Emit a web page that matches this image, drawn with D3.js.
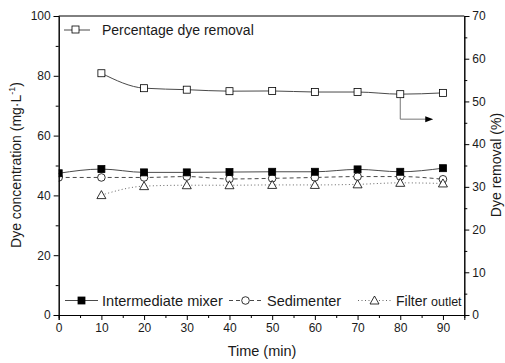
<!DOCTYPE html>
<html><head><meta charset="utf-8">
<script src="https://cdn.jsdelivr.net/npm/d3@7"></script>
<style>body{margin:0;background:#fff}svg{display:block;font-family:"Liberation Sans",Arial,sans-serif}</style>
</head><body><svg id="c" width="505" height="363"></svg>
<script>
const times = [0,10,20,30,40,50,60,70,80,90];
const mixer = [47.4,48.8,47.7,47.7,47.8,47.9,47.9,48.7,47.9,49.1];
const sedimenter = [46.0,46.0,46.0,46.3,45.5,45.7,46.0,46.3,46.3,45.4];
const filterTimes = [10,20,30,40,50,60,70,80,90];
const filterOutlet = [40.1,43.1,43.4,43.4,43.5,43.5,43.7,44.2,44.0];
const removalTimes = [10,20,30,40,50,60,70,80,90];
const removal = [56.6,53.1,52.75,52.4,52.45,52.2,52.2,51.7,52.0];
const xTicks = [0,10,20,30,40,50,60,70,80,90];
const yLeftTicks = [0,20,40,60,80,100];
const yRightTicks = [0,10,20,30,40,50,60,70];

const svg = d3.select("#c");
const L=58.7, R=464.3, T=16, B=315;
const x = d3.scaleLinear().domain([0,95]).range([L,R]);
const yL = d3.scaleLinear().domain([0,100]).range([B,T]);
const yR = d3.scaleLinear().domain([0,70]).range([B,T]);
const fs = "12px";
const txtCol = "#1a1a1a";

svg.append("defs").append("clipPath").attr("id","plot").append("rect")
  .attr("x",L).attr("y",T).attr("width",R-L).attr("height",B-T);

const lineCol = "#4a4a4a";
function line(xs, ys, yScale){
  return d3.line().curve(d3.curveMonotoneX).x((d,i)=>x(xs[i])).y(d=>yScale(d))(ys);
}
const data = svg.append("g").attr("clip-path","url(#plot)");
data.append("path").attr("d",line(removalTimes,removal,yR)).attr("fill","none").attr("stroke",lineCol).attr("stroke-width",1);
data.append("path").attr("d",line(times,mixer,yL)).attr("fill","none").attr("stroke",lineCol).attr("stroke-width",1);
data.append("path").attr("d",line(times,sedimenter,yL)).attr("fill","none").attr("stroke",lineCol).attr("stroke-width",1).attr("stroke-dasharray","4,3");
data.append("path").attr("d",line(filterTimes,filterOutlet,yL)).attr("fill","none").attr("stroke","#666").attr("stroke-width",1).attr("stroke-dasharray","1,2.5");

// arrow
const ax = x(removalTimes[7]), ay = yR(removal[7]);
data.append("path").attr("d",`M${ax},${ay}V${ay+25}H${ax+26}`).attr("fill","none").attr("stroke","#777");
data.append("path").attr("d",`M${ax+25},${ay+22}L${ax+33},${ay+25}L${ax+25},${ay+28}Z`).attr("fill","#000");

function sq(g,cx,cy,fill){g.append("rect").attr("x",cx-3.5).attr("y",cy-3.5).attr("width",7).attr("height",7).attr("fill",fill).attr("stroke","#000").attr("stroke-width",0.8);}
function circ(g,cx,cy){g.append("circle").attr("cx",cx).attr("cy",cy).attr("r",3.8).attr("fill","#fff").attr("stroke","#000").attr("stroke-width",0.8);}
function tri(g,cx,cy){g.append("path").attr("d",`M${cx},${cy-4.5}L${cx+4.5},${cy+3.5}L${cx-4.5},${cy+3.5}Z`).attr("fill","#fff").attr("stroke","#000").attr("stroke-width",0.8);}

times.forEach((t,i)=>circ(data,x(t),yL(sedimenter[i])));
filterTimes.forEach((t,i)=>tri(data,x(t),yL(filterOutlet[i])));
times.forEach((t,i)=>sq(data,x(t),yL(mixer[i]),"#000"));
removalTimes.forEach((t,i)=>sq(data,x(t),yR(removal[i]),"#fff"));

// frame top line
svg.append("line").attr("x1",L).attr("x2",R).attr("y1",T).attr("y2",T).attr("stroke","#000");

svg.append("g").attr("transform",`translate(0,${B})`)
  .call(d3.axisBottom(x).tickValues(xTicks).tickSize(5).tickPadding(3).tickFormat(d3.format("d")));
svg.append("g").attr("transform",`translate(0,${B})`)
  .call(d3.axisBottom(x).tickValues(d3.range(5,95,10)).tickSize(3).tickFormat(""));
svg.append("g").attr("transform",`translate(${L},0)`)
  .call(d3.axisLeft(yL).tickValues(yLeftTicks).tickSize(5).tickPadding(3));
svg.append("g").attr("transform",`translate(${L},0)`)
  .call(d3.axisLeft(yL).tickValues(d3.range(10,100,20)).tickSize(3).tickFormat(""));
svg.append("g").attr("transform",`translate(${R},0)`)
  .call(d3.axisRight(yR).tickValues(yRightTicks).tickSize(5).tickPadding(3));
svg.append("g").attr("transform",`translate(${R},0)`)
  .call(d3.axisRight(yR).tickValues(d3.range(5,70,10)).tickSize(3).tickFormat(""));
svg.selectAll(".domain").attr("stroke","#000");
svg.selectAll(".tick line").attr("stroke","#000");
svg.selectAll(".tick text").attr("font-size",fs).attr("fill",txtCol).attr("font-family","Liberation Sans, Arial, sans-serif");

// axis titles
svg.append("text").attr("x",262).attr("y",356).attr("text-anchor","middle").attr("font-size","14.5px").attr("fill",txtCol).text("Time (min)");
const lt = svg.append("text").attr("transform","translate(21,165) rotate(-90)").attr("text-anchor","middle").attr("font-size","14px").attr("fill",txtCol);
lt.append("tspan").text("Dye concentration (mg·L");
lt.append("tspan").attr("font-size","9px").attr("dy","-6").text("-1");
lt.append("tspan").attr("dy","6").text(")");
svg.append("text").attr("transform","translate(501,165) rotate(-90)").attr("text-anchor","middle").attr("font-size","14px").attr("fill",txtCol).text("Dye removal (%)");

// legends
const lg = svg.append("g");
lg.append("line").attr("x1",64).attr("x2",90).attr("y1",30).attr("y2",30).attr("stroke",lineCol);
lg.append("rect").attr("x",72).attr("y",26).attr("width",7).attr("height",7).attr("fill","#fff").attr("stroke","#000").attr("stroke-width",0.8);
lg.append("text").attr("x",102).attr("y",35).attr("font-size","14px").attr("fill",txtCol).text("Percentage dye removal");

const by = 300.5;
lg.append("line").attr("x1",65).attr("x2",98).attr("y1",by).attr("y2",by).attr("stroke",lineCol);
sq(lg,81.5,by,"#000");
lg.append("text").attr("x",102).attr("y",by+5).attr("font-size","14.6px").attr("fill",txtCol).text("Intermediate mixer");
lg.append("line").attr("x1",229).attr("x2",262).attr("y1",by).attr("y2",by).attr("stroke",lineCol).attr("stroke-dasharray","4,3");
circ(lg,245.5,by);
lg.append("text").attr("x",267).attr("y",by+5).attr("font-size","14.5px").attr("fill",txtCol).text("Sedimenter");
lg.append("line").attr("x1",358).attr("x2",391).attr("y1",by).attr("y2",by).attr("stroke","#666").attr("stroke-dasharray","1,2.5");
tri(lg,374.5,by);
const ft = lg.append("text").attr("x",396).attr("y",by+5).attr("font-size","14px").attr("fill",txtCol);
ft.append("tspan").text("Filter ");
ft.append("tspan").attr("font-size","12.5px").text("outlet");
</script></body></html>
